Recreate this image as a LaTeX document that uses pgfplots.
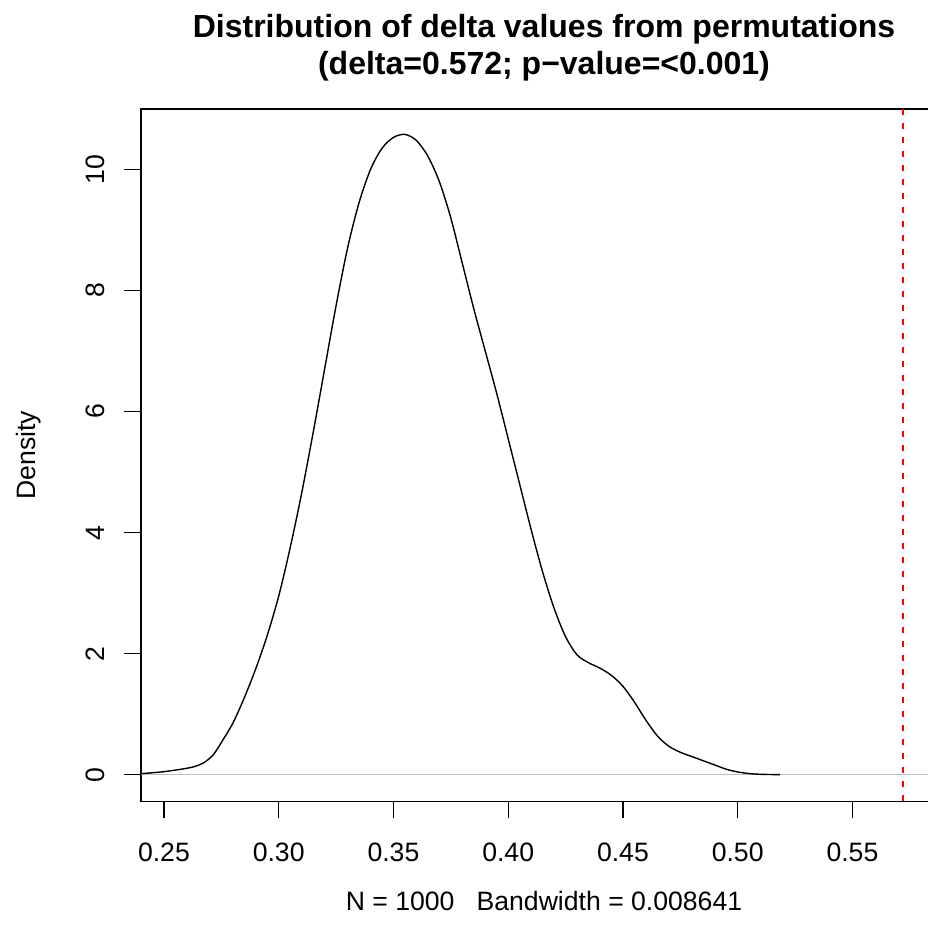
\documentclass[border=0pt]{standalone}
\usepackage{fontspec}
\setmainfont{Liberation Sans}
\usepackage{pgfplots}
\pgfplotsset{compat=1.18}
\definecolor{rgray}{RGB}{190,190,190}
\begin{document}
\begin{tikzpicture}
\begin{axis}[
  name=ax, at={(0,0)}, anchor=south west,
  scale only axis, width=403.0pt, height=346.15pt,
  xmin=0.24, xmax=0.5912, ymin=-0.44, ymax=11.0,
  axis line style={line width=0.7pt},
  tick style={line width=0.7pt, black},
  tick align=outside, major tick length=8.5pt,
  xtick pos=bottom, ytick pos=left,
  xtick={0.25,0.30,0.35,0.40,0.45,0.50,0.55},
  ytick={0,2,4,6,8,10},
  /pgf/number format/assume math mode=true,
  xticklabel={\pgfmathprintnumber[fixed,fixed zerofill,precision=2]{\tick}},
  yticklabel={\pgfmathprintnumber[fixed,precision=0]{\tick}},
  ticklabel style={font=\fontsize{13.3}{15}\selectfont},
  xticklabel style={anchor=base, yshift=-21.4pt},
  yticklabel style={rotate=90, anchor=base, yshift=9.5pt},
]
\addplot[rgray, line width=0.7pt] coordinates {(0.24,0) (0.5912,0)};
\addplot[black, line width=0.7pt, smooth] table {
x y
0.2400 0.017
0.2500 0.05
0.2614 0.116
0.2670 0.19
0.2714 0.325
0.2753 0.55
0.2800 0.85
0.2850 1.27
0.2900 1.75
0.2950 2.3
0.3000 2.95
0.3050 3.75
0.3100 4.65
0.3150 5.65
0.3200 6.7
0.3250 7.75
0.3300 8.7
0.3350 9.45
0.3400 10.0
0.3450 10.35
0.3500 10.53
0.3550 10.58
0.3600 10.48
0.3650 10.22
0.3700 9.8
0.3750 9.2
0.3800 8.45
0.3850 7.7
0.3900 7.0
0.3950 6.3
0.4000 5.55
0.4050 4.8
0.4100 4.05
0.4150 3.35
0.4200 2.75
0.4250 2.28
0.4300 1.98
0.4350 1.85
0.4400 1.76
0.4450 1.64
0.4500 1.46
0.4550 1.2
0.4600 0.9
0.4650 0.64
0.4700 0.47
0.4750 0.37
0.4800 0.3
0.4850 0.23
0.4900 0.16
0.4950 0.09
0.5000 0.045
0.5050 0.018
0.5100 0.006
0.5184 0.0
};
\addplot[red, line width=0.8pt, dash pattern=on 3.35pt off 3.65pt] coordinates {(0.572,-0.44) (0.572,11.0)};
\end{axis}
\node[anchor=base, font=\fontsize{16}{19}\selectfont\bfseries] at ([yshift=35.5pt]ax.north) {Distribution of delta values from permutations};
\node[anchor=base, font=\fontsize{16}{19}\selectfont\bfseries] at ([yshift=17.4pt]ax.north) {(delta=0.572; p−value=<0.001)};
\node[anchor=base, font=\fontsize{13.3}{15}\selectfont] at ([yshift=-54.35pt]ax.south) {N = 1000\hspace{0.834em}Bandwidth = 0.008641};
\node[anchor=base, rotate=90, font=\fontsize{13.3}{15}\selectfont] at ([xshift=-52.5pt]ax.west) {Density};
\pgfresetboundingbox
\path[use as bounding box] (-70.5pt,-67.85pt) rectangle (393pt,400.65pt);
\end{tikzpicture}
\end{document}
